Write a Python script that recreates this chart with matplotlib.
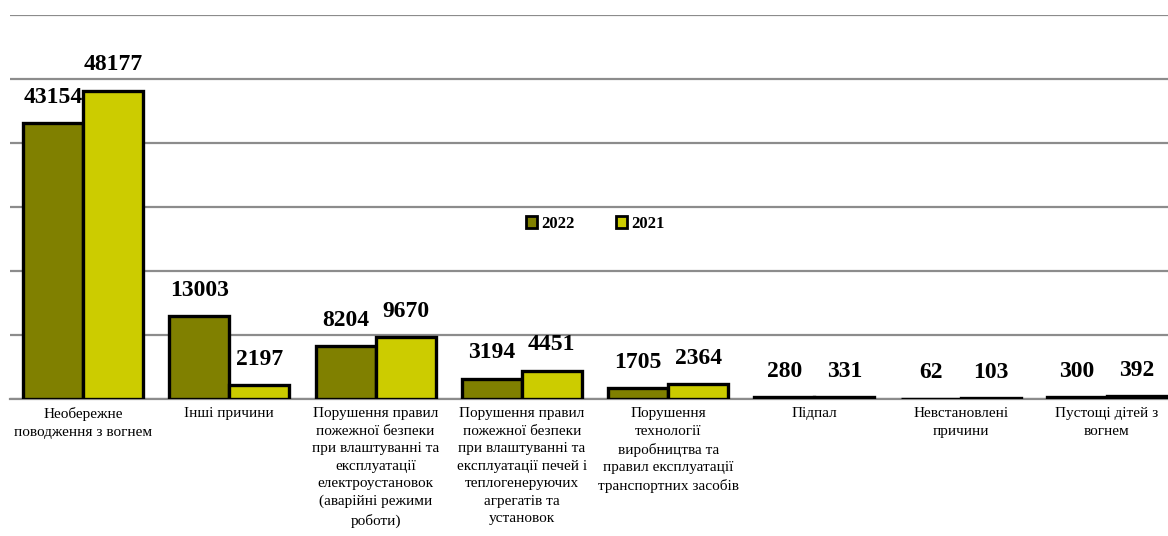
import numpy as np
import matplotlib
matplotlib.use("Agg")
import matplotlib.pyplot as plt
from matplotlib.patches import Patch

plt.rcParams['font.family'] = ['Liberation Serif', 'DejaVu Serif']

categories = [
    "Необережне\nповодження з вогнем",
    "Інші причини",
    "Порушення правил\nпожежної безпеки\nпри влаштуванні та\nексплуатації\nелектроустановок\n(аварійні режими\nроботи)",
    "Порушення правил\nпожежної безпеки\nпри влаштуванні та\nексплуатації печей і\nтеплогенеруючих\nагрегатів та\nустановок",
    "Порушення\nтехнології\nвиробництва та\nправил експлуатації\nтранспортних засобів",
    "Підпал",
    "Невстановлені\nпричини",
    "Пустощі дітей з\nвогнем",
]
values_2022 = [43154, 13003, 8204, 3194, 1705, 280, 62, 300]
values_2021 = [48177, 2197, 9670, 4451, 2364, 331, 103, 392]

col_2022 = "#808000"
col_2021 = "#CCCC00"

fig = plt.figure(figsize=(11.68, 5.36), dpi=100)
ax = fig.add_axes([10 / 1168, 137 / 536, 1170 / 1168, 384 / 536])

x = np.arange(len(categories))
w = 0.41
b1 = ax.bar(x - w / 2, values_2022, w, color=col_2022, edgecolor="black",
            linewidth=2.4, label="2022", zorder=3)
b2 = ax.bar(x + w / 2, values_2021, w, color=col_2021, edgecolor="black",
            linewidth=2.4, label="2021", zorder=3)

for bars, vals in ((b1, values_2022), (b2, values_2021)):
    for r, v in zip(bars, vals):
        ax.annotate(str(v), (r.get_x() + r.get_width() / 2, v),
                    xytext=(0, 11), textcoords="offset points",
                    ha="center", va="bottom", fontsize=17, fontweight="bold")

ax.set_xlim(-0.5, len(categories) - 0.5)
ax.set_ylim(0, 60000)
ax.set_yticks(np.arange(0, 60001, 10000))
ax.yaxis.grid(True, color="#8c8c8c", linewidth=1.6, zorder=0)
ax.tick_params(axis="y", left=False, labelleft=False)
ax.set_xticks(x)
ax.set_xticklabels(categories, fontsize=11, linespacing=1.45)
ax.tick_params(axis="x", length=0, pad=6)
for s in ("top", "right", "left"):
    ax.spines[s].set_visible(False)
ax.spines["bottom"].set_color("#8c8c8c")
ax.spines["bottom"].set_linewidth(1.6)

handles = [Patch(facecolor=col_2022, edgecolor="black", linewidth=2),
           Patch(facecolor=col_2021, edgecolor="black", linewidth=2)]
ax.legend(handles, ["2022", "2021"], loc="center", bbox_to_anchor=(0.5, 0.456),
          ncol=2, frameon=False, handlelength=0.7, handleheight=0.7,
          handletextpad=0.2, columnspacing=2.5,
          prop={"size": 12, "weight": "bold"})

fig.savefig("out.png", dpi=100)
